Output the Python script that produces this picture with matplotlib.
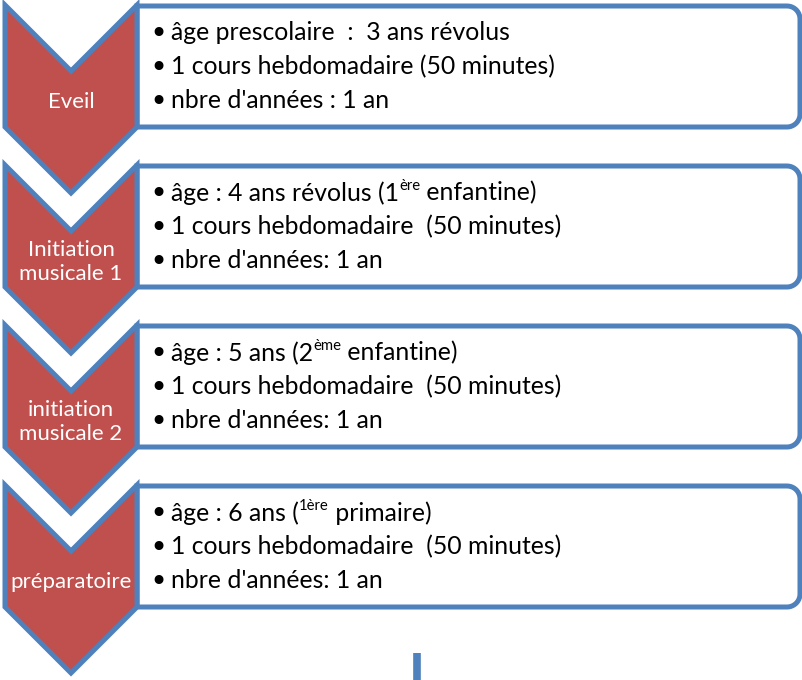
import re
import numpy as np
import matplotlib
matplotlib.use('Agg')
import matplotlib.pyplot as plt
from matplotlib.patches import Polygon, PathPatch
from matplotlib.path import Path

# stage names (chevrons) and details (boxes); [..] marks superscript
stages = ['Eveil', 'Initiation\nmusicale 1', 'initiation\nmusicale 2', 'préparatoire']
eveil = ["âge prescolaire  :  3 ans révolus",
         "1 cours hebdomadaire (50 minutes)",
         "nbre d'années : 1 an"]
init1 = ["âge : 4 ans révolus (1[ère] enfantine)",
         "1 cours hebdomadaire  (50 minutes)",
         "nbre d'années: 1 an"]
init2 = ["âge : 5 ans (2[ème] enfantine)",
         "1 cours hebdomadaire  (50 minutes)",
         "nbre d'années: 1 an"]
prepa = ["âge : 6 ans ([1ère] primaire)",
         "1 cours hebdomadaire  (50 minutes)",
         "nbre d'années: 1 an"]
details = [eveil, init1, init2, prepa]

red = '#C0504D'
blue = '#4F81BD'
plt.rcParams['font.family'] = ['Lato', 'DejaVu Sans']

W, H = 802, 680
fig = plt.figure(figsize=(W / 100, H / 100), dpi=100)
ax = fig.add_axes([0, 0, 1, 1])
ax.set_xlim(0, W)
ax.set_ylim(H, 0)
ax.axis('off')
renderer = fig.canvas.get_renderer()

# layout
x0, x1 = 5, 137          # chevron left / right
xr = 800                 # box right
step = 160
side = 122
tip = (x1 - x0) / 2
rad = 13
fs = 17.8


def box_path(top, bot):
    verts = [(x1, top), (xr - rad, top)]
    a = np.linspace(-np.pi / 2, 0, 12)
    verts += [(xr - rad + rad * np.cos(t), top + rad + rad * np.sin(t)) for t in a]
    a = np.linspace(0, np.pi / 2, 12)
    verts += [(xr - rad + rad * np.cos(t), bot - rad + rad * np.sin(t)) for t in a]
    verts += [(x1, bot), (x1, top)]
    codes = [Path.MOVETO] + [Path.LINETO] * (len(verts) - 2) + [Path.CLOSEPOLY]
    return Path(verts, codes)


def rich(x, y, s, size):
    parts = re.split(r'(\[[^\]]*\])', s)
    for p in parts:
        if not p:
            continue
        sup = p.startswith('[')
        txt = p[1:-1] if sup else p
        t = ax.text(x, y - (7 if sup else 0), txt, fontsize=size * (0.6 if sup else 1),
                    va='center', ha='left', color='black')
        bb = t.get_window_extent(renderer)
        x += bb.width


for i, (name, lines) in enumerate(zip(stages, details)):
    top = 5 + i * step
    bot = top + side
    ax.add_patch(PathPatch(box_path(top + 1, bot), facecolor='white', edgecolor=blue, lw=3.6, zorder=1))
    xm = (x0 + x1) / 2
    chev = [(x0, top), (xm, top + tip), (x1, top), (x1, bot), (xm, bot + tip), (x0, bot)]
    ax.add_patch(Polygon(chev, closed=True, facecolor=red, edgecolor=blue, lw=3.6, joinstyle='miter', zorder=2))
    ax.text(xm, top + 97, name, ha='center', va='center', color='white', fontsize=16,
            linespacing=1.2, zorder=3)
    for j, line in enumerate(lines):
        y = top + 28 + j * 34
        ax.text(158, y + 1, '•', fontsize=22, va='center', ha='center', family='DejaVu Sans')
        rich(171, y, line, fs)

ax.plot([416.5, 416.5], [653, 680], color=blue, lw=5.5, solid_capstyle='butt')

fig.savefig('out.png', dpi=100)
